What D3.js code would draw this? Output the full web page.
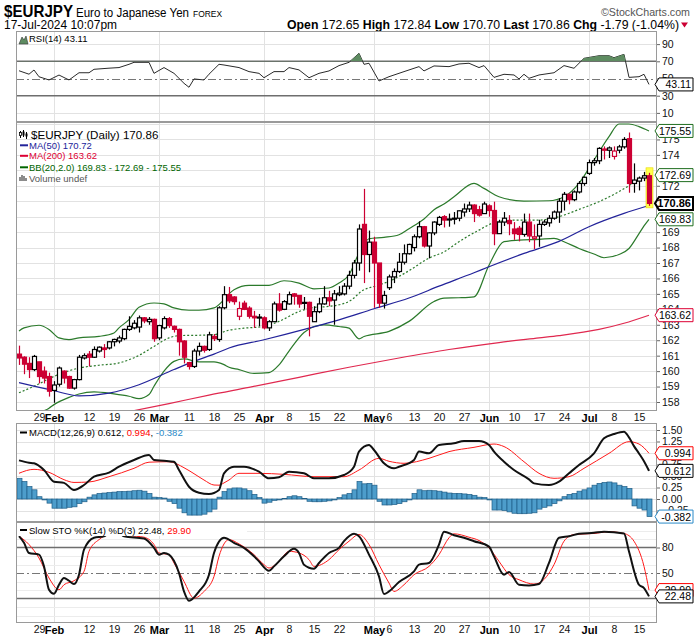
<!DOCTYPE html>
<html><head><meta charset="utf-8">
<script src="https://cdn.jsdelivr.net/npm/d3@7/dist/d3.min.js"></script>
<style>
body{margin:0;background:#fff;}
svg text{font-family:"Liberation Sans",Arial,sans-serif;}
</style></head>
<body><svg id="chart" width="700" height="639"></svg>
<script>
// ---------------- DATA ----------------
const startDate = "2024-01-23", endDate = "2024-07-17";
const open = [161.1,160.9,160.5,160.1,160.6,160.0,159.65,158.75,159.15,160.0,
159.65,158.9,159.45,160.85,161.1,160.9,161.3,161.5,161.5,161.9,
161.95,162.1,162.7,162.8,162.85,163.45,163.2,163.35,162.15,162.8,
163.4,162.9,162.7,161.95,160.55,160.3,161.3,161.6,161.4,162.25,
162.05,164.1,164.95,164.8,163.55,164.4,164.08,163.55,163.5,163.45,
162.8,163.2,164.35,164.0,164.35,165.0,164.9,164.45,164.45,163.2,
163.85,164.35,164.75,164.6,164.95,165.0,165.5,166.2,167.0,169.5,
167.55,168.35,167.0,164.4,165.4,166.1,166.45,167.05,167.6,168.0,
168.7,169.35,168.1,168.95,169.5,170.0,169.85,169.9,169.9,170.3,
170.5,170.75,170.45,170.2,170.7,170.4,168.9,169.65,169.75,169.2,
169.25,168.85,169.65,168.6,168.75,169.5,169.6,169.9,170.3,171.0,
171.45,171.1,171.6,172.15,172.8,173.5,173.62,174.3,174.3,173.9,
174.3,174.52,175.05,172.15,172.3,172.5,172.65];
const high = [161.65,160.96,160.9,161.05,160.6,160.3,159.9,159.35,160.3,160.05,
159.7,159.5,161.05,161.15,161.3,161.6,161.6,161.75,161.95,162.1,
162.3,162.75,163.55,163.3,163.6,163.5,163.5,163.4,163.0,163.55,
163.5,162.95,162.75,162.0,160.6,161.45,161.85,161.65,162.55,162.4,
164.2,165.5,165.45,164.85,164.5,164.56,164.2,163.9,163.7,163.55,
163.3,164.5,165.05,164.6,165.15,165.05,164.9,164.8,164.5,164.2,
164.75,165.5,165.2,165.25,165.5,165.7,166.5,167.2,169.5,171.8,
169.1,168.7,167.0,165.2,166.25,166.65,167.65,168.2,168.25,168.85,
169.7,169.4,169.0,169.7,170.05,170.1,170.2,170.3,170.4,170.85,
170.97,170.8,170.7,170.97,170.8,170.97,169.8,170.3,170.1,169.65,
169.4,170.2,170.2,169.5,169.8,169.8,170.1,170.4,171.2,171.6,
171.5,171.7,172.3,172.6,173.7,173.8,174.5,174.55,174.55,174.55,
174.65,175.15,175.45,173.45,172.6,172.9,172.84];
const low = [160.4,159.8,159.55,160.0,159.2,159.2,158.35,157.95,159.0,159.2,
158.85,158.8,159.4,160.75,160.3,160.85,161.2,160.85,161.4,161.6,
161.8,162.0,162.6,162.7,162.5,163.1,163.0,161.9,162.0,162.7,
162.8,162.5,161.0,160.5,160.1,160.2,161.0,161.2,161.3,161.95,
161.9,164.0,164.4,164.3,163.3,163.95,163.4,162.8,162.9,162.7,
162.6,163.2,163.85,163.95,164.3,164.3,164.1,164.0,162.25,163.2,
163.75,164.3,164.2,163.0,164.85,164.9,165.3,166.0,166.5,165.7,
166.4,164.1,164.1,164.05,165.25,165.7,166.35,166.9,167.55,167.75,
168.6,168.0,167.3,168.8,169.4,169.3,169.35,169.5,169.7,170.0,
170.3,169.65,170.0,170.2,170.0,168.15,168.9,169.4,168.8,168.5,
168.4,168.7,168.35,167.9,168.05,169.4,169.35,169.8,169.6,170.4,
170.8,171.0,171.5,172.0,172.7,173.3,173.4,173.7,173.8,173.7,
174.1,174.4,171.55,171.55,171.7,172.3,170.70];
const close = [160.85,160.45,160.1,160.95,159.65,159.55,158.7,159.1,160.2,159.55,
158.9,159.45,160.9,161.0,160.9,161.4,161.55,161.4,161.9,162.05,
162.15,162.7,162.9,163.1,163.45,163.25,163.35,162.1,162.95,163.4,
162.95,162.7,161.9,160.9,160.3,161.3,161.6,161.35,162.35,162.1,
164.1,164.95,164.55,164.5,164.05,164.0,163.55,163.45,163.47,162.8,
163.2,164.35,163.95,164.5,164.95,164.85,164.35,164.4,163.55,163.85,
164.35,164.75,164.55,165.0,165.05,165.5,166.2,167.0,169.2,167.55,
168.35,167.0,164.4,164.9,166.1,166.45,167.05,167.6,168.2,168.7,
169.35,168.1,168.95,169.65,169.95,169.78,169.82,169.85,170.38,170.5,
170.75,170.2,170.1,170.82,170.4,168.9,169.65,169.9,169.55,168.9,
168.85,169.65,168.75,168.7,169.5,169.65,169.9,170.3,171.0,171.45,
171.1,171.6,172.15,172.55,173.5,173.62,174.42,174.38,174.45,174.25,
174.52,175.0,172.15,172.37,172.5,172.65,170.86];

// overlays (trading-day index -> value)
const ma50Day = [0,7,12,18,24,31,35,39,42,49,58,64,71,78,84,91,94,101,108,114,121,126];
const ma50Val = [159.25,158.73,158.4,158.58,159.12,160.1,160.63,161.1,161.5,162.03,162.78,163.32,164.04,164.73,165.5,166.37,166.76,167.62,168.4,169.35,170.21,170.72];
const ma200Day = [20,23,30,38,46,56,66,76,86,96,104,108,116,121,126];
const ma200Val = [157.25,157.44,157.9,158.45,158.95,159.6,160.25,160.85,161.4,161.85,162.15,162.3,162.7,163.1,163.62];
const bbUpDay = [0,1,4,6,8,10,12,16,19,20,22,24,27,29,31,34,36,39,41,42,43,46,50,53,56,59,62,64,66,68,70,73,76,78,81,83,85,87,91,93,96,101,106,109,112,115,118,120,122,124,126];
const bbUpVal = [162.6,162.8,162.97,162.7,162.15,162.04,162.15,162.25,162.47,162.8,163.33,164.13,164.41,164.35,164.09,163.94,163.94,164.09,164.63,165.0,165.27,165.55,165.55,165.85,165.7,165.33,165.38,165.7,166.24,167.64,168.57,168.66,168.83,169.22,169.85,170.45,170.82,171.29,172.16,171.83,171.29,171.01,171.03,171.29,172.16,173.67,175.18,176.0,176.0,175.83,175.55];
const bbMidDay = [0,3,7,12,16,20,24,27,30,32,36,39,42,45,49,52,56,59,62,66,69,71,74,78,82,85,88,92,95,99,104,108,112,116,120,123,126];
const bbMidVal = [158.6,159.02,159.66,160.2,160.38,160.53,161.02,161.6,162.15,162.3,162.32,162.36,162.65,162.78,162.89,163.22,163.86,164.12,164.19,164.51,165.27,165.48,165.81,166.5,167.32,167.72,168.38,169.13,169.61,169.78,169.78,170.0,170.47,170.97,171.62,172.2,172.69];
const bbLoDay = [0,4,6,7,10,12,15,19,22,24,26,27,29,31,33,36,39,41,42,44,47,50,52,54,57,59,61,64,66,68,69,74,78,83,85,88,91,94,97,100,104,107,109,112,115,117,120,122,124,125,126];
const bbLoVal = [157.0,157.3,157.6,157.83,158.3,158.52,158.65,158.52,158.37,158.22,158.48,159.02,160.0,160.63,160.79,160.6,160.6,160.42,160.25,160.1,159.85,159.9,160.4,161.3,162.5,162.89,163.0,162.89,162.78,162.09,162.24,162.57,163.22,164.51,164.73,164.75,164.81,166.86,168.38,168.48,168.53,168.59,168.38,167.94,167.58,167.34,167.55,167.94,168.9,169.4,169.83];

// RSI(14)
const rsiDay = [0,2,3,4,6,8,10,12,14,15,18,20,22,23,26,27,29,31,33,34,35,37,38,40,41,44,46,48,49,51,53,54,56,58,60,62,64,66,68,69,70,72,74,77,80,81,83,86,88,90,92,93,95,97,99,100,101,102,104,107,109,111,113,116,118,119,121,122,124,125,126];
const rsiVal = [59,55,59.9,52,48.3,54,48.3,56.7,56.7,60.7,62,62.7,66.5,68.8,68.8,56,62.7,56,44.4,39.8,49.5,48.3,55,66.5,65.7,62.7,58,56,50.9,58,58,62.7,60,50.9,56,58.8,65,68.8,79.3,66.5,67.7,47.1,52.1,58,63.8,58.8,64.6,63.8,66.9,67.7,62.7,65,51.3,54.9,54.1,49.5,54.9,50.2,54.1,56.7,65,61.9,73.5,76.5,76.5,74.2,78.1,51.3,52.1,54.9,43.11];

// MACD(12,26,9)
const macdDay = [0,2,3,5,7,9,11,13,15,18,20,23,26,27,29,31,32,34,36,38,40,41,43,45,48,50,52,54,57,59,62,65,67,68,70,71,73,75,76,79,80,82,84,87,89,92,94,95,97,99,102,103,106,108,110,112,115,117,119,121,122,123,124,125,126];
const macdVal = [0.84,0.79,0.776,0.63,0.376,0.35,0.196,0.304,0.485,0.572,0.702,0.848,0.957,0.848,0.833,0.81,0.63,0.267,0.137,0.109,0.196,0.558,0.702,0.702,0.594,0.45,0.471,0.594,0.558,0.45,0.45,0.522,0.702,1.03,1.174,1.065,0.776,0.667,0.702,0.848,1.03,0.993,1.174,1.21,1.26,1.26,1.174,1.03,0.81,0.63,0.427,0.34,0.304,0.376,0.558,0.739,0.993,1.319,1.413,1.464,1.34,1.15,0.99,0.82,0.612];
const sigDay = [0,3,6,9,11,14,18,23,26,30,33,35,37,39,40,41,42,44,48,53,59,65,68,72,74,77,82,86,91,95,97,101,104,107,110,113,118,122,124,126];
const sigVal = [0.56,0.645,0.58,0.42,0.36,0.37,0.485,0.667,0.8,0.81,0.68,0.55,0.413,0.304,0.3,0.35,0.413,0.558,0.558,0.536,0.485,0.485,0.63,0.884,0.82,0.776,0.884,1.03,1.123,1.195,1.14,0.81,0.558,0.45,0.485,0.667,0.993,1.246,1.195,0.994];
const histVal = [0.45,0.38,0.27,0.2,0.05,-0.02,-0.09,-0.2,-0.2,-0.2,
-0.18,-0.17,-0.1,-0.06,0.04,0.09,0.12,0.13,0.14,0.15,
0.16,0.16,0.17,0.18,0.19,0.17,0.12,0.04,0.03,0.02,
-0.05,-0.1,-0.2,-0.3,-0.35,-0.35,-0.35,-0.33,-0.28,-0.22,
0.04,0.16,0.22,0.24,0.24,0.22,0.18,0.1,0.03,-0.09,
-0.07,-0.03,-0.02,0.01,0.05,0.07,0.05,0.01,-0.05,-0.06,
-0.06,-0.05,-0.04,-0.02,0.03,0.09,0.12,0.2,0.38,0.33,
0.34,0.3,-0.05,-0.13,-0.13,-0.12,-0.1,-0.06,-0.02,0.12,
0.2,0.18,0.19,0.18,0.17,0.15,0.13,0.12,0.12,0.11,
0.1,0.08,0.04,0.03,-0.02,-0.24,-0.24,-0.25,-0.28,-0.31,
-0.32,-0.32,-0.31,-0.3,-0.22,-0.18,-0.15,-0.1,-0.04,0.05,
0.1,0.12,0.17,0.2,0.24,0.3,0.34,0.36,0.37,0.35,
0.3,0.27,0.23,-0.15,-0.2,-0.24,-0.382];

// Slow STO %K(14) %D(3)
const kDay = [0,1,2,4,5,6,7,8,9,10,11,12,13,15,17,18,19,20,21,25,27,28,29,30,32,33,34,36,38,39,41,43,45,47,48,50,51,53,55,56,57,59,60,62,64,65,67,68,70,72,73,74,76,79,80,82,84,85,87,89,91,94,95,97,98,100,102,104,106,108,110,112,115,117,121,122,124,125,126];
const kVal = [93.3,85.5,73.6,71.6,57.8,30.3,25.5,36.2,44.1,40.9,37,48,77.5,91.4,93.3,97,98,97.5,93.3,90.5,79.6,71.6,73.6,71.6,50,28.3,17.3,28.3,48,73.6,91.4,85.5,79.6,69.6,63.7,52.7,57.8,69.6,78.4,73.6,59.8,55.1,61.8,73.6,79.6,87.4,96.1,93.3,71.6,46,25.2,28.3,39.4,51.9,59.8,61.8,83.5,98.5,94.5,91.4,87.4,81.1,69.6,48,51.2,36.2,35.4,37,61.8,91.4,93.3,96.1,97.3,98.5,96.5,75.2,36.2,32.3,22.48];
const dDay = [0,2,4,6,8,9,11,13,14,16,17,18,20,22,25,27,28,30,31,33,35,37,39,40,42,44,47,49,50,52,54,56,58,59,62,64,66,68,70,72,74,75,77,79,82,84,86,87,90,92,94,96,98,100,103,104,107,109,111,115,118,121,123,125,126];
const dVal = [93.3,83.5,67.6,44.1,30.3,36.2,40.9,51.9,75.5,89.3,93.3,95,96,94,92.1,83.5,73.6,71.6,61.8,40.1,20.4,28.3,46,69.6,89.3,84.2,71.6,59.8,55.9,63.7,75.5,73.6,65.7,57.8,65.7,77.5,87.4,95.3,83.5,59.8,38.2,28.3,36.2,48,57.8,71.6,91.4,96.1,92.1,88.2,79.6,63.7,48,42.1,37,38.2,59.8,87.4,95.3,96.5,98.5,96.5,87.4,57.8,29.9];

// axis labels
const priceTicks = d3.range(158, 176);
const rsiTicks = [10,30,50,70,90];
const macdTicks = [-0.25,0,0.25,0.5,0.75,1.0,1.25,1.5];
const stoTicks = [20,50,80];
const monthLabels = [["2024-02-01","Feb"],["2024-03-01","Mar"],["2024-04-01","Apr"],["2024-05-01","May"],["2024-06-03","Jun"],["2024-07-01","Jul"]];
const weekLabels = [["2024-01-29","29"],["2024-02-12","12"],["2024-02-19","19"],["2024-02-26","26"],["2024-03-11","11"],["2024-03-18","18"],["2024-03-25","25"],["2024-04-08","8"],["2024-04-15","15"],["2024-04-22","22"],["2024-05-06","6"],["2024-05-13","13"],["2024-05-20","20"],["2024-05-27","27"],["2024-06-10","10"],["2024-06-17","17"],["2024-06-24","24"],["2024-07-08","8"],["2024-07-15","15"]];

// ---------------- DRAW ----------------
const svg = d3.select("#chart");
const fmt = d3.timeFormat("%Y-%m-%d");
const parse = d3.timeParse("%Y-%m-%d");
const dates = d3.timeDay.range(parse(startDate), d3.timeDay.offset(parse(endDate),1)).filter(d => d.getDay() % 6 !== 0);
const idxOf = s => dates.findIndex(d => fmt(d) === s);
const L = 16, R = 657;
const P = {rsi:{top:31,bot:121}, main:{top:122,bot:410}, macd:{top:423,bot:521}, sto:{top:522,bot:622}};
const x = d3.scaleLinear().domain([0, dates.length-1]).range([19, 649]);
const yM = d3.scaleLinear().domain([158,176]).range([402,124]);
const yR = d3.scaleLinear().domain([0,100]).range([121.5,35.5]);
const yC = d3.scaleLinear().domain([0,1.5]).range([499,430]);
const yS = d3.scaleLinear().domain([20,80]).range([598.5,547.5]);
const monthIdx = monthLabels.map(m => idxOf(m[0]));
const GRID = "#e2e2e2", BORDER = "#9a9a9a";
const RED = "#cc0033", GREEN = "#2b7a2b", NAVY = "#23239a", MA200C = "#e0284f";
const LEG = "'DejaVu Sans',Verdana,sans-serif";

const defs = svg.append("defs");
function panel(name, p) {
  defs.append("clipPath").attr("id","clip-"+name).append("rect")
    .attr("x",L).attr("y",p.top).attr("width",R-L).attr("height",p.bot-p.top);
  const g = svg.append("g");
  g.append("rect").attr("x",L).attr("y",p.top).attr("width",R-L).attr("height",p.bot-p.top).attr("fill","#fff");
  g.selectAll(".vg").data(monthIdx).join("line")
    .attr("x1",d=>Math.round(x(d))+0.5).attr("x2",d=>Math.round(x(d))+0.5)
    .attr("y1",p.top).attr("y2",p.bot).attr("stroke",GRID);
  const inner = svg.append("g").attr("clip-path","url(#clip-"+name+")");
  return {g, inner};
}
function hgrid(g, vals, y, color) {
  g.selectAll(null).data(vals).join("line")
    .attr("x1",L).attr("x2",R).attr("y1",d=>Math.round(y(d))+0.5).attr("y2",d=>Math.round(y(d))+0.5)
    .attr("stroke",color||GRID);
}
function border(p) {
  svg.append("rect").attr("x",L+0.5).attr("y",p.top+0.5).attr("width",R-L-1).attr("height",p.bot-p.top)
    .attr("fill","none").attr("stroke",BORDER);
}
// tick labels fully covered by a value tag are not drawn (as in the reference)
function rightAxis(scale, ticks, format, tagVals) {
  const shown = ticks.filter(t => tagVals.every(v => Math.abs(scale(t) - scale(v)) >= 5));
  const a = svg.append("g").attr("transform",`translate(${R},0)`)
    .call(d3.axisRight(scale).tickValues(shown).tickFormat(format).tickSize(3).tickPadding(2));
  a.select(".domain").remove();
  a.selectAll("line").attr("stroke","#666");
  a.selectAll("text").attr("font-size","10.5px").attr("fill","#111").attr("font-family","'Liberation Sans',Arial,sans-serif");
  return a;
}
function tag(yv, text, color, bold) {
  const g = svg.append("g");
  const h = 6.5;
  g.append("path").attr("d",`M655,${yv} L659,${yv-h} L693,${yv-h} L693,${yv+h} L659,${yv+h} Z`)
    .attr("fill","#fff").attr("stroke",color).attr("stroke-width",bold?2:1);
  g.append("text").attr("x",691).attr("y",yv+4).attr("text-anchor","end")
    .attr("font-size", bold?"11px":"10.5px").attr("font-weight",bold?"bold":"normal")
    .attr("fill","#000").text(text);
}
function lineOf(days, vals, y, curve) {
  return d3.line().x((d,i)=>x(days[i])).y((d,i)=>y(vals[i])).curve(curve||d3.curveLinear)(vals);
}
function xAxis(yTop) {
  const w = svg.append("g").attr("transform",`translate(0,${yTop})`)
    .call(d3.axisBottom(x).tickValues(weekLabels.map(w=>idxOf(w[0]))).tickFormat((d,i)=>weekLabels[i][1]).tickSize(0).tickPadding(4));
  w.select(".domain").remove();
  w.selectAll("text").attr("font-size","10.5px").attr("fill","#111").attr("font-family","'Liberation Sans',Arial,sans-serif");
  const m = svg.append("g").attr("transform",`translate(0,${yTop})`)
    .call(d3.axisBottom(x).tickValues(monthIdx).tickFormat((d,i)=>monthLabels[i][1]).tickSize(0).tickPadding(4));
  m.select(".domain").remove();
  m.selectAll("text").attr("font-size","11px").attr("font-weight","bold").attr("fill","#000").attr("font-family","'Liberation Sans Narrow','Liberation Sans',Arial,sans-serif");
}

// ---- header ----
svg.append("text").attr("x",4).attr("y",17).attr("font-size","17px").attr("font-weight","bold")
  .attr("font-family","'Liberation Sans Narrow','Liberation Sans',Arial").attr("textLength",69).attr("lengthAdjust","spacingAndGlyphs").text("$EURJPY");
svg.append("text").attr("x",76).attr("y",17).attr("font-size","12.5px")
  .attr("font-family","'Liberation Sans Narrow','Liberation Sans',Arial").attr("textLength",113).attr("lengthAdjust","spacingAndGlyphs").text("Euro to Japanese Yen");
svg.append("text").attr("x",193).attr("y",17).attr("font-size","9.5px").attr("font-family",LEG)
  .attr("textLength",29).attr("lengthAdjust","spacingAndGlyphs").text("FOREX");
svg.append("text").attr("x",4).attr("y",29).attr("font-size","12px")
  .attr("font-family","'Liberation Sans Narrow','Liberation Sans',Arial").attr("textLength",113).attr("lengthAdjust","spacingAndGlyphs").text("17-Jul-2024 10:07pm");
svg.append("text").attr("x",601).attr("y",16).attr("font-size","11px").attr("fill","#555")
  .attr("font-family","'Liberation Sans Narrow','Liberation Sans',Arial").attr("textLength",89).attr("lengthAdjust","spacingAndGlyphs").text("\u00A9StockCharts.com");
const hdr = svg.append("text").attr("x",287).attr("y",29).attr("font-size","12.5px")
  .attr("font-family","'Liberation Sans Narrow','Liberation Sans',Arial").attr("textLength",392).attr("lengthAdjust","spacingAndGlyphs");
[["Open",1],[" 172.65 ",0],["High",1],[" 172.84 ",0],["Low",1],[" 170.70 ",0],["Last",1],[" 170.86 ",0],["Chg",1],[" -1.79 (-1.04%)",0]]
  .forEach(s => hdr.append("tspan").attr("font-weight",s[1]?"bold":"normal").text(s[0]));
svg.append("path").attr("d","M681,22.5 L688,22.5 L684.5,27.5 Z").attr("fill",RED);

// ---- RSI panel ----
const pr = panel("rsi", P.rsi);
hgrid(pr.g, [10,90], yR);
const rsiLineD = lineOf(rsiDay, rsiVal, yR);
defs.append("clipPath").attr("id","clip-ob").append("rect").attr("x",L).attr("y",P.rsi.top).attr("width",R-L).attr("height",yR(70)-P.rsi.top);
svg.append("path").attr("clip-path","url(#clip-ob)")
  .attr("d", d3.area().x((d,i)=>x(rsiDay[i])).y0(yR(70)).y1((d,i)=>yR(rsiVal[i]))(rsiVal))
  .attr("fill","#5e8c61");
pr.inner.selectAll(null).data([70,30]).join("line").attr("x1",L).attr("x2",R)
  .attr("y1",d=>yR(d)).attr("y2",d=>yR(d)).attr("stroke","#6e6e6e").attr("stroke-width",1.5);
pr.inner.append("line").attr("x1",L).attr("x2",R).attr("y1",Math.round(yR(50))+0.5).attr("y2",Math.round(yR(50))+0.5)
  .attr("stroke","#777").attr("stroke-dasharray","8,3,2,3");
pr.inner.append("path").attr("d",rsiLineD).attr("fill","none").attr("stroke","#2a2a2a").attr("stroke-width",1);
border(P.rsi);
svg.append("path").attr("d","M19,44 L22,37 L24,40 L26,36 L28,44 Z").attr("fill","#5e8c61").attr("stroke","#333").attr("stroke-width",0.6);
svg.append("text").attr("x",29).attr("y",41.5).attr("font-size","9.5px").attr("font-family",LEG).text("RSI(14) 43.11");
rightAxis(yR, rsiTicks, d3.format("d"), [43.11]);
tag(yR(43.11), "43.11", "#000");

// ---- Main panel ----
const pm = panel("main", P.main);
hgrid(pm.g, d3.range(158,177), yM);
const mi = pm.inner;
mi.append("path").attr("d",lineOf(ma200Day, ma200Val, yM, d3.curveMonotoneX)).attr("fill","none").attr("stroke",MA200C).attr("stroke-width",1.2);
mi.append("path").attr("d",lineOf(bbUpDay, bbUpVal, yM, d3.curveMonotoneX)).attr("fill","none").attr("stroke",GREEN).attr("stroke-width",1.2);
mi.append("path").attr("d",lineOf(bbLoDay, bbLoVal, yM, d3.curveMonotoneX)).attr("fill","none").attr("stroke",GREEN).attr("stroke-width",1.2);
mi.append("path").attr("d",lineOf(bbMidDay, bbMidVal, yM, d3.curveMonotoneX)).attr("fill","none").attr("stroke",GREEN).attr("stroke-width",1.2).attr("stroke-dasharray","2,2");
mi.append("path").attr("d",lineOf(ma50Day, ma50Val, yM, d3.curveMonotoneX)).attr("fill","none").attr("stroke",NAVY).attr("stroke-width",1.2);
// highlight last bar
const last = close.length-1;
mi.append("rect").attr("x",Math.round(x(last))-3).attr("y",yM(high[last])-5).attr("width",7).attr("height",yM(low[last])-yM(high[last])+7)
  .attr("fill","#ffff4d").attr("stroke","#e6d800").attr("stroke-width",0.6);
const candles = mi.selectAll(".c").data(close.map((c,i)=>i)).join("g");
candles.each(function(i){
  const g = d3.select(this);
  const col = (i>0 ? close[i] < close[i-1] : close[i] < open[i]) ? RED : "#000";
  const filled = close[i] < open[i];
  const cx = Math.round(x(i));
  g.append("line").attr("x1",cx+0.5).attr("x2",cx+0.5).attr("y1",yM(high[i])).attr("y2",yM(low[i])).attr("stroke",col).attr("stroke-width",1.2);
  const t = yM(Math.max(open[i],close[i])), b = yM(Math.min(open[i],close[i]));
  g.append("rect").attr("x",cx-1.5).attr("y",t).attr("width",4).attr("height",Math.max(1,b-t))
    .attr("fill",filled?col:"#fff").attr("stroke",col).attr("stroke-width",1.2);
});
border(P.main);
// legend
const lg = svg.append("g").attr("font-family",LEG).attr("font-size","9.5px");
lg.append("path").attr("d","M20.5,131 V138 M23.5,130 V137 M26.5,132 V139").attr("stroke","#000");
lg.append("rect").attr("x",19.5).attr("y",132.5).attr("width",2).attr("height",3).attr("fill","#fff").attr("stroke","#000").attr("stroke-width",0.8);
lg.append("rect").attr("x",22.5).attr("y",131.5).attr("width",2).attr("height",4).attr("fill","#000");
lg.append("rect").attr("x",25.5).attr("y",133.5).attr("width",2).attr("height",3).attr("fill","#000");
lg.append("text").attr("x",31).attr("y",138.5).attr("font-size","11.6px").attr("fill","#000").text("$EURJPY (Daily) 170.86");
[["MA(50) 170.72",NAVY,148.8],["MA(200) 163.62","#dd0033",159.3],["BB(20,2.0) 169.83 - 172.69 - 175.55","#006600",170.8]].forEach(r=>{
  lg.append("line").attr("x1",20).attr("x2",28).attr("y1",r[2]-3.5).attr("y2",r[2]-3.5).attr("stroke",r[1]).attr("stroke-width",2);
  lg.append("text").attr("x",29).attr("y",r[2]).attr("fill",r[1]).text(r[0]);
});
lg.append("path").attr("d","M20,181 V177 M22,181 V175 M24,181 V176 M26,181 V178").attr("stroke","#666").attr("stroke-width",1.5);
lg.append("text").attr("x",29).attr("y",181.5).attr("fill","#555").text("Volume undef");
rightAxis(yM, priceTicks, d3.format("d"), [175.55,172.69,170.86,169.83,163.62]);
tag(yM(175.55),"175.55","#1f6e1f");
tag(yM(172.69),"172.69","#1f6e1f");
tag(yM(169.83),"169.83","#1f6e1f");
tag(yM(163.62),"163.62","#dd0033");
tag(yM(170.86),"170.86","#000",true);
xAxis(P.main.bot);

// ---- MACD panel ----
const pc = panel("macd", P.macd);
hgrid(pc.g, macdTicks, yC);
pc.inner.selectAll(".h").data(histVal).join("rect")
  .attr("x",(d,i)=>Math.round(x(i))-2).attr("width",5)
  .attr("y",d=>Math.min(yC(0),yC(d))).attr("height",d=>Math.abs(yC(d)-yC(0)))
  .attr("fill","#4d9dcb").attr("stroke","#1f5d86").attr("stroke-width",0.7);
pc.inner.append("path").attr("d",lineOf(sigDay, sigVal, yC, d3.curveMonotoneX)).attr("fill","none").attr("stroke","#ff1a1a").attr("stroke-width",1);
pc.inner.append("path").attr("d",lineOf(macdDay, macdVal, yC, d3.curveMonotoneX)).attr("fill","none").attr("stroke","#111").attr("stroke-width",2);
border(P.macd);
const ml = svg.append("text").attr("x",29).attr("y",436).attr("font-family",LEG).attr("font-size","9.5px");
ml.append("tspan").attr("fill","#000").text("MACD(12,26,9) 0.612, ");
ml.append("tspan").attr("fill","#ff0000").text("0.994");
ml.append("tspan").attr("fill","#000").text(", ");
ml.append("tspan").attr("fill","#2a8ac8").text("-0.382");
svg.append("line").attr("x1",20).attr("x2",27).attr("y1",432.5).attr("y2",432.5).attr("stroke","#000").attr("stroke-width",2);
rightAxis(yC, macdTicks, d3.format(".2f"), [0.994,0.612,-0.382]);
tag(yC(0.994),"0.994","#ff0000");
tag(yC(0.612),"0.612","#000");
tag(yC(-0.382),"-0.382","#2a8ac8");

// ---- Slow STO panel ----
const ps = panel("sto", P.sto);
hgrid(ps.g, [0,10,30,40,60,70,90,100], yS, "#ececec");
ps.inner.selectAll(null).data([80,20]).join("line").attr("x1",L).attr("x2",R)
  .attr("y1",d=>yS(d)).attr("y2",d=>yS(d)).attr("stroke","#6e6e6e").attr("stroke-width",1.5);
ps.inner.append("line").attr("x1",L).attr("x2",R).attr("y1",Math.round(yS(50))+0.5).attr("y2",Math.round(yS(50))+0.5)
  .attr("stroke","#777").attr("stroke-dasharray","8,3,2,3");
ps.inner.append("path").attr("d",lineOf(dDay, dVal, yS, d3.curveMonotoneX)).attr("fill","none").attr("stroke","#ff1a1a").attr("stroke-width",1);
ps.inner.append("path").attr("d",lineOf(kDay, kVal, yS, d3.curveMonotoneX)).attr("fill","none").attr("stroke","#111").attr("stroke-width",2);
border(P.sto);
svg.append("rect").attr("x",17).attr("y",523).attr("width",230).attr("height",13).attr("fill","#fff");
const sl = svg.append("text").attr("x",29).attr("y",533.5).attr("font-family",LEG).attr("font-size","9.5px");
sl.append("tspan").attr("fill","#000").text("Slow STO %K(14) %D(3) 22.48, ");
sl.append("tspan").attr("fill","#ff0000").text("29.90");
svg.append("line").attr("x1",20).attr("x2",27).attr("y1",530).attr("y2",530).attr("stroke","#000").attr("stroke-width",2);
rightAxis(yS, stoTicks, d3.format("d"), [22.48]);
tag(yS(29.90),"29.90","#ff0000");
tag(yS(22.48),"22.48","#000");
xAxis(P.sto.bot);
</script>
</body></html>
